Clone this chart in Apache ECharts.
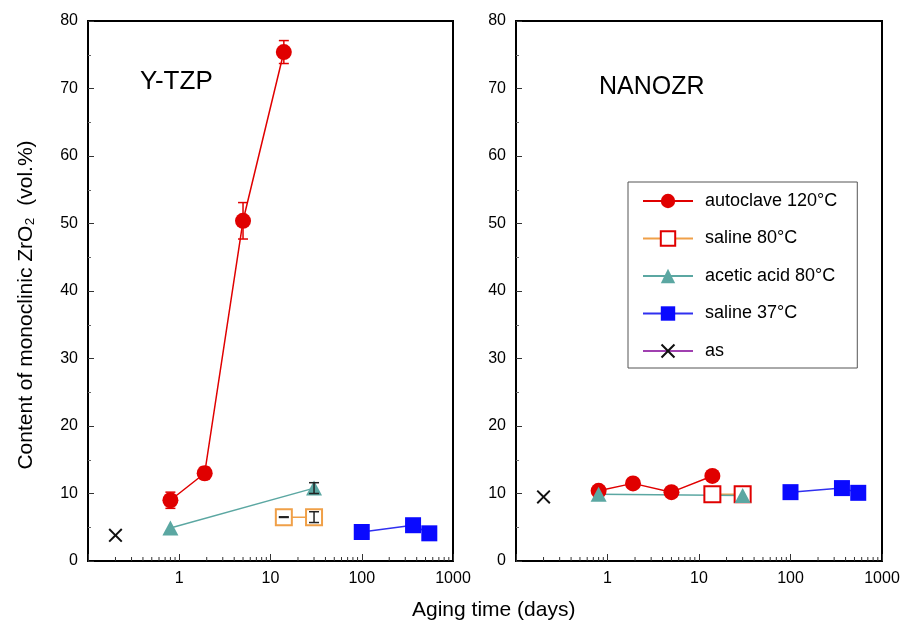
<!DOCTYPE html>
<html>
<head>
<meta charset="utf-8">
<script src="https://cdn.jsdelivr.net/npm/echarts@6/dist/echarts.min.js"></script>
<style>
  html, body { margin: 0; padding: 0; background: #fff; }
  #main { width: 906px; height: 624px; }
</style>
</head>
<body>
<div id="main"></div>
<script>
// aging time (days)
var autoclaveDays = [0.8, 1.9, 5, 14];
var saline80Days = [14, 30];
var aceticDays = [0.8, 30];
var saline37Days = [100, 365, 550];
var asDays = [0.2];

// Y-TZP (left panel), monoclinic content vol.%
var tzpAutoclave = [9.0, 13.0, 50.4, 75.4];
var tzpAutoclaveErr = [1.2, 0.9, 2.7, 1.7];
var tzpSaline80 = [6.5, 6.5];
var tzpSaline80Err = [0.05, 0.8];
var tzpAcetic = [4.9, 10.8];
var tzpAceticErr = [0, 0.8];
var tzpSaline37 = [4.3, 5.3, 4.1];
var tzpAs = [3.8];

// NANOZR (right panel)
var nzAutoclave = [10.4, 11.5, 10.2, 12.6];
var nzSaline80 = [9.9, 9.9];
var nzAcetic = [9.9, 9.7];
var nzSaline37 = [10.2, 10.8, 10.1];
var nzAs = [9.5];

var xTickLabels = ['1', '10', '100', '1000'];

var RED = '#e00000', ORANGE = '#f0a048', TEAL = '#5ba7a2', BLUE = '#0a0aff', PURPLE = '#a040b0';
var FONT = 'Liberation Sans, Arial, sans-serif';
var XMARK = 'path://M0,1L1,0L5,4L9,0L10,1L6,5L10,9L9,10L5,6L1,10L0,9L4,5Z';

function pairs(xs, ys) {
  return xs.map(function (x, i) { return [x, ys[i]]; });
}
function errs(xs, ys, es) {
  var out = [];
  xs.forEach(function (x, i) {
    if (es[i] > 0) out.push([x, ys[i] - es[i], ys[i] + es[i]]);
  });
  return out;
}
function errRender(params, api) {
  var lo = api.coord([api.value(0), api.value(1)]);
  var hi = api.coord([api.value(0), api.value(2)]);
  var c = api.visual('color');
  var st = { stroke: c, lineWidth: 1.5 };
  return {
    type: 'group',
    children: [
      { type: 'line', shape: { x1: lo[0], y1: lo[1], x2: hi[0], y2: hi[1] }, style: st },
      { type: 'line', shape: { x1: lo[0] - 5, y1: lo[1], x2: lo[0] + 5, y2: lo[1] }, style: st },
      { type: 'line', shape: { x1: hi[0] - 5, y1: hi[1], x2: hi[0] + 5, y2: hi[1] }, style: st }
    ]
  };
}

// minor log ticks (2..9 of each decade)
var minorTicks = [];
[0.1, 1, 10, 100].forEach(function (d) {
  for (var k = 2; k <= 9; k++) minorTicks.push([d * k, 0]);
});
function minorRender(params, api) {
  var p = api.coord([api.value(0), 0]);
  return { type: 'line', shape: { x1: p[0], y1: p[1], x2: p[0], y2: p[1] - 4 },
    style: { stroke: '#333', lineWidth: 1 } };
}

function xAxis(idx) {
  return {
    type: 'log', gridIndex: idx, min: 0.1, max: 1000, logBase: 10,
    axisLine: { lineStyle: { color: '#000', width: 2 } },
    axisTick: { inside: true, length: 7, lineStyle: { color: '#333' } },
    splitLine: { show: false },
    axisLabel: {
      color: '#000', fontSize: 16, fontFamily: FONT, margin: 10,
      formatter: function (v) {
        var s = String(Math.round(v));
        return xTickLabels.indexOf(s) >= 0 && v >= 1 ? s : '';
      }
    }
  };
}
function yAxis(idx) {
  return {
    type: 'value', gridIndex: idx, min: 0, max: 80, interval: 10,
    axisLine: { show: true, lineStyle: { color: '#000', width: 2 } },
    axisTick: { show: true, inside: true, length: 6, lineStyle: { color: '#333' } },
    minorTick: { show: true, splitNumber: 2, length: 3, lineStyle: { color: '#666' } },
    splitLine: { show: false },
    axisLabel: { color: '#000', fontSize: 16, fontFamily: FONT, margin: 10 }
  };
}

function panelSeries(idx, d) {
  return [
    { name: 'autoclave 120°C', type: 'line', xAxisIndex: idx, yAxisIndex: idx,
      data: pairs(autoclaveDays, d.autoclave), symbol: 'circle', symbolSize: 16,
      itemStyle: { color: RED }, lineStyle: { color: RED, width: 1.5 }, z: 3 },
    { name: 'saline 80°C', type: 'line', xAxisIndex: idx, yAxisIndex: idx,
      data: pairs(saline80Days, d.saline80), symbol: 'emptyRect', symbolSize: 16,
      itemStyle: { color: d.sal80Color, borderWidth: 1.5 }, lineStyle: { color: ORANGE, width: 1.5 }, z: 3 },
    { name: 'acetic acid 80°C', type: 'line', xAxisIndex: idx, yAxisIndex: idx,
      data: pairs(aceticDays, d.acetic), symbol: 'triangle', symbolSize: [16, 15],
      itemStyle: { color: TEAL }, lineStyle: { color: TEAL, width: 1.5 }, z: 3 },
    { name: 'saline 37°C', type: 'line', xAxisIndex: idx, yAxisIndex: idx,
      data: pairs(saline37Days, d.saline37), symbol: 'rect', symbolSize: 16,
      itemStyle: { color: BLUE }, lineStyle: { color: '#3030f0', width: 1.5 }, z: 3 },
    { name: 'as', type: 'line', xAxisIndex: idx, yAxisIndex: idx,
      data: pairs(asDays, d.as), symbol: XMARK, symbolSize: 14,
      itemStyle: { color: '#111' }, lineStyle: { color: PURPLE, width: 1.5 }, z: 3 },
    { type: 'custom', xAxisIndex: idx, yAxisIndex: idx, data: minorTicks,
      renderItem: minorRender, silent: true, z: 2 }
  ];
}

var series = []
  .concat(panelSeries(0, { autoclave: tzpAutoclave, saline80: tzpSaline80, acetic: tzpAcetic,
    saline37: tzpSaline37, as: tzpAs, sal80Color: ORANGE }))
  .concat(panelSeries(1, { autoclave: nzAutoclave, saline80: nzSaline80, acetic: nzAcetic,
    saline37: nzSaline37, as: nzAs, sal80Color: RED }))
  .concat([
    { type: 'custom', xAxisIndex: 0, yAxisIndex: 0, renderItem: errRender, silent: true, z: 4,
      itemStyle: { color: RED }, data: errs(autoclaveDays, tzpAutoclave, tzpAutoclaveErr) },
    { type: 'custom', xAxisIndex: 0, yAxisIndex: 0, renderItem: errRender, silent: true, z: 4,
      itemStyle: { color: '#222' }, data: errs(saline80Days, tzpSaline80, tzpSaline80Err) },
    { type: 'custom', xAxisIndex: 0, yAxisIndex: 0, renderItem: errRender, silent: true, z: 4,
      itemStyle: { color: '#222' }, data: errs(aceticDays, tzpAcetic, tzpAceticErr) }
  ]);

var option = {
  backgroundColor: '#fff',
  animation: false,
  grid: [
    { left: 88, top: 21, width: 365, height: 540, show: true, borderColor: '#000', borderWidth: 2 },
    { left: 516, top: 21, width: 366, height: 540, show: true, borderColor: '#000', borderWidth: 2 }
  ],
  xAxis: [xAxis(0), xAxis(1)],
  yAxis: [yAxis(0), yAxis(1)],
  legend: {
    orient: 'vertical', left: 628, top: 182,
    backgroundColor: '#fff', borderColor: '#555', borderWidth: 1,
    padding: [10, 20, 8, 14],
    itemWidth: 50, itemHeight: 18, itemGap: 19.5,
    textStyle: { color: '#000', fontSize: 18, fontFamily: FONT, padding: [0, 0, 0, 7] },
    data: [
      { name: 'autoclave 120°C' },
      { name: 'saline 80°C', itemStyle: { color: RED, borderColor: RED, borderWidth: 1.5 },
        lineStyle: { color: ORANGE } },
      { name: 'acetic acid 80°C' },
      { name: 'saline 37°C' },
      { name: 'as' }
    ]
  },
  graphic: [
    { type: 'text', left: 140, top: 69, style: { text: 'Y-TZP', fontSize: 26, fontFamily: FONT, fill: '#000' } },
    { type: 'text', left: 599, top: 75, style: { text: 'NANOZR', fontSize: 25, fontFamily: FONT, fill: '#000' } },
    { type: 'text', left: 412, top: 600, style: { text: 'Aging time (days)', fontSize: 21, fontFamily: FONT, fill: '#000' } },
    { type: 'text', x: 26, y: 305, rotation: Math.PI / 2,
      style: { text: 'Content of monoclinic ZrO\u2082  (vol.%)', fontSize: 21, fontFamily: FONT, fill: '#000',
        textAlign: 'center', textVerticalAlign: 'middle' } }
  ],
  series: series
};

var chart = echarts.init(document.getElementById('main'));
chart.setOption(option);
</script>
</body>
</html>
